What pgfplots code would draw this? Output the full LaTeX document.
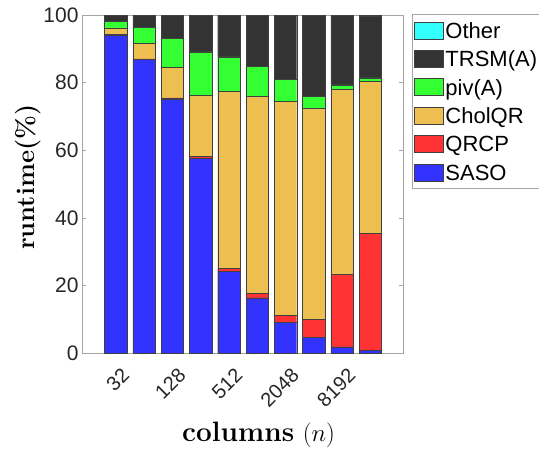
\documentclass[border=0pt]{standalone}
\usepackage{pgfplots}
\pgfplotsset{compat=1.18}
\usepackage{fontspec}
\newfontfamily\arial{Liberation Sans}
\definecolor{cSASO}{RGB}{51,51,255}
\definecolor{cQRCP}{RGB}{255,51,51}
\definecolor{cChol}{RGB}{237,191,80}
\definecolor{cPiv}{RGB}{51,255,51}
\definecolor{cTRSM}{RGB}{51,51,51}
\definecolor{cOther}{RGB}{51,255,255}
\definecolor{axgray}{RGB}{165,165,165}
\definecolor{txt}{RGB}{38,38,38}
\pgfplotsset{
  mylegend/.style={legend image code/.code={\draw[##1,line width=0.5pt] (0pt,-8.6pt) rectangle (29pt,8.4pt);}},
}
\begin{document}
\begin{tikzpicture}
\begin{axis}[
  name=ax,
  scale only axis, width=321pt, height=338pt,
  ybar stacked, bar width=22.4pt,
  xmin=-0.19, xmax=11.15, ymin=0, ymax=100,
  xtick={1,...,10}, xticklabels={32,,128,,512,,2048,,8192,},
  ytick={0,20,...,100},
  tick align=inside, major tick length=4pt,
  axis line style={draw=axgray, line width=0.6pt},
  tick style={draw=axgray, line width=0.6pt},
  /pgf/number format/assume math mode=true,
  yticklabel style={font=\arial\fontsize{21}{25}\selectfont, text=txt},
  xticklabel style={font=\arial\fontsize{20}{24}\selectfont, text=txt, inner sep=0pt, xshift=10pt, yshift=-19pt, rotate=45, anchor=east},
  ylabel={\bfseries runtime(\%)},
  ylabel style={font=\fontsize{25.5}{30}\selectfont, at={(axis description cs:-0.168,0.52)}, anchor=center},
  xlabel={\textbf{columns} $(n)$},
  xlabel style={font=\fontsize{28}{32}\selectfont, at={(axis description cs:0.55,-0.263)}, anchor=base},
  reverse legend,
  legend style={at={(axis description cs:1.027,1.003)}, anchor=north west, draw=axgray, line width=0.6pt,
    font=\arial\fontsize{22}{26}\selectfont, inner xsep=2pt, inner ysep=4pt,
    nodes={inner sep=0pt, text height=20pt, text depth=4pt, text=black}, row sep=4.4pt, column sep=2pt},
  legend cell align=left,
]
\addplot[fill=cSASO, draw=black!75, line width=0.4pt, mylegend] coordinates {(1,94.1)(2,86.9)(3,75.2)(4,57.6)(5,24.2)(6,16.3)(7,9.1)(8,4.6)(9,1.8)(10,0.7)};
\addplot[fill=cQRCP, draw=black!75, line width=0.4pt, mylegend] coordinates {(1,0.1)(2,0.1)(3,0.3)(4,0.6)(5,0.8)(6,1.4)(7,2.0)(8,5.3)(9,21.4)(10,34.7)};
\addplot[fill=cChol, draw=black!75, line width=0.4pt, mylegend] coordinates {(1,2.0)(2,4.6)(3,9.0)(4,18.0)(5,52.5)(6,58.2)(7,63.4)(8,62.5)(9,54.8)(10,45.0)};
\addplot[fill=cPiv, draw=black!75, line width=0.4pt, mylegend] coordinates {(1,2.0)(2,4.7)(3,8.5)(4,12.9)(5,10.1)(6,9.0)(7,6.5)(8,3.6)(9,1.3)(10,1.0)};
\addplot[fill=cTRSM, draw=black!75, line width=0.4pt, mylegend] coordinates {(1,1.8)(2,3.7)(3,7.0)(4,10.9)(5,12.4)(6,15.1)(7,19.0)(8,23.9)(9,20.5)(10,18.2)};
\addplot[fill=cOther, draw=black!75, line width=0.4pt, mylegend] coordinates {(1,0)(2,0)(3,0)(4,0)(5,0)(6,0)(7,0)(8,0.1)(9,0.2)(10,0.4)};
\legend{SASO,QRCP,CholQR,piv(A),TRSM(A),Other}
\end{axis}
\pgfresetboundingbox
\path[use as bounding box] (ax.south west) ++(-82pt,-95pt) rectangle ++(539pt,448pt);
\end{tikzpicture}
\end{document}
